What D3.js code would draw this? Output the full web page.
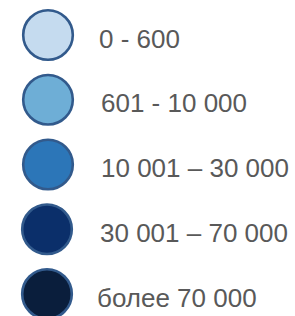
<!DOCTYPE html>
<html><head><meta charset="utf-8">
<script src="https://cdn.jsdelivr.net/npm/d3@7"></script>
<style>html,body{margin:0;padding:0;background:#fff;}</style>
</head><body>
<script>
const categories = ["0 - 600", "601 - 10 000", "10 001 – 30 000", "30 001 – 70 000", "более 70 000"];
const colors = ["#c5dbef", "#6eaed6", "#2c76b8", "#0b2f6a", "#0a1e3c"];

const W = 295, H = 316;
const svg = d3.select("body").append("svg").attr("width", W).attr("height", H);

const y = d3.scalePoint().domain(categories).range([35, 294]);
const circleX = [48, 48, 48, 47, 47];
const textX = [99, 101, 101, 100, 97];

const g = svg.selectAll("g.item").data(categories).enter().append("g").attr("class", "item");
g.append("circle")
  .attr("cx", (d, i) => circleX[i])
  .attr("cy", d => y(d))
  .attr("r", 24.8)
  .attr("fill", (d, i) => colors[i])
  .attr("stroke", "#325a8c")
  .attr("stroke-width", 2.6);
g.append("text")
  .attr("x", (d, i) => textX[i])
  .attr("y", d => y(d) + 12.5)
  .attr("font-family", "Liberation Sans, Arial, sans-serif")
  .attr("font-size", 26)
  .attr("fill", "#595959")
  .text(d => d);
</script>
</body></html>
